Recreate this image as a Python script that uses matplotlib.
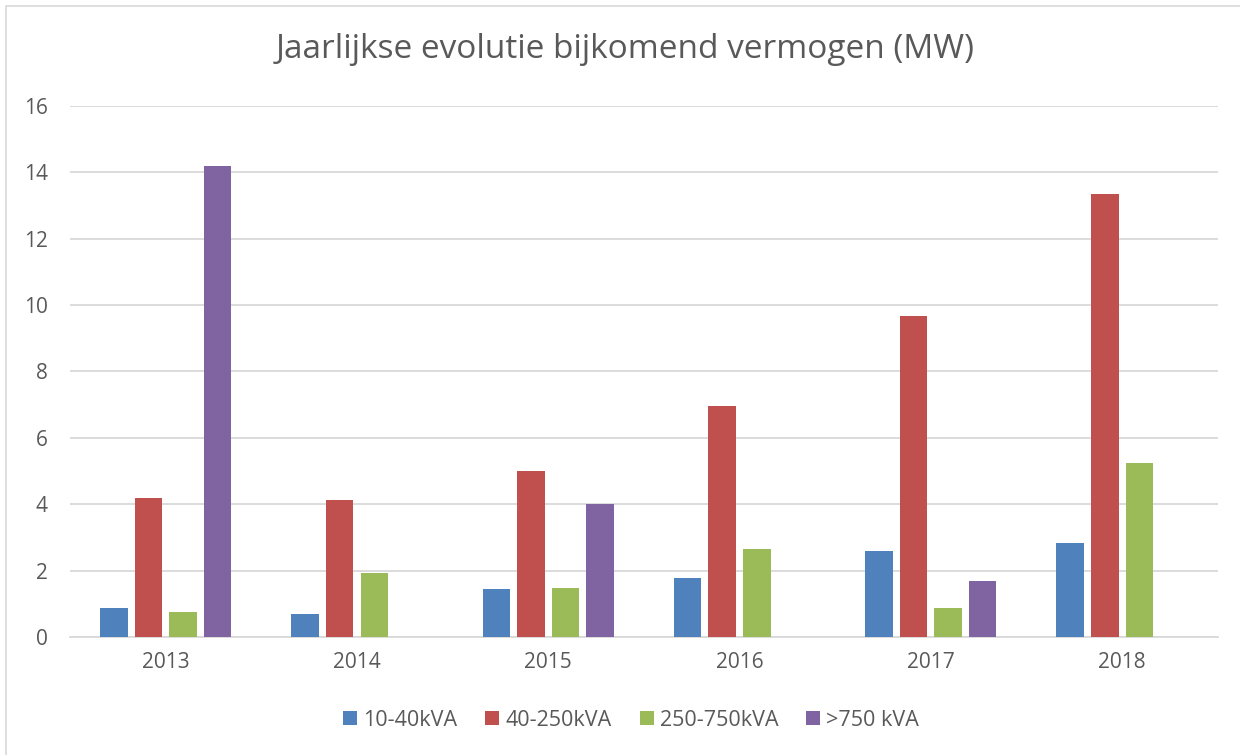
import numpy as np
import matplotlib.pyplot as plt
from matplotlib.patches import Rectangle

# Data
years = ['2013', '2014', '2015', '2016', '2017', '2018']
series_names = ['10-40kVA', '40-250kVA', '250-750kVA', '>750 kVA']
kva_10_40 = [0.88, 0.70, 1.45, 1.78, 2.58, 2.82]
kva_40_250 = [4.20, 4.14, 5.00, 6.97, 9.67, 13.34]
kva_250_750 = [0.74, 1.94, 1.48, 2.65, 0.86, 5.24]
kva_750_plus = [14.20, 0, 4.00, 0, 1.70, 0]
colors = ['#4f81bd', '#c0504d', '#9bbb59', '#8064a2']

plt.rcParams['font.family'] = ['Open Sans', 'DejaVu Sans']
text_color = '#595959'

fig = plt.figure(figsize=(12.4, 7.55), dpi=100)
ax = fig.add_axes([0.0565, 0.1563, 0.9255, 0.7033])

# Chart border
fig.patches.append(Rectangle((6 / 1240, -0.01), 1.2, 1 - 6 / 755 + 0.01,
                             transform=fig.transFigure, fill=False,
                             edgecolor='#d9d9d9', linewidth=1.2))

x = np.arange(len(years))
step = 0.181
width = 0.144
all_series = [kva_10_40, kva_40_250, kva_250_750, kva_750_plus]
for i, (name, vals) in enumerate(zip(series_names, all_series)):
    ax.bar(x + (i - 1.5) * step, vals, width, color=colors[i], label=name,
           zorder=3)

ax.set_xlim(-0.5, len(years) - 0.5)
ax.set_ylim(0, 16)
ax.set_yticks(range(0, 17, 2))
ax.set_xticks(x)
ax.set_xticklabels(years)
ax.yaxis.grid(True, color='#d9d9d9', linewidth=1.3, zorder=0)
ax.set_axisbelow(True)
for side in ['top', 'right', 'left']:
    ax.spines[side].set_visible(False)
ax.spines['bottom'].set_color('#d9d9d9')
ax.spines['bottom'].set_linewidth(1.3)
ax.tick_params(axis='both', length=0, colors=text_color, labelsize=15)
ax.tick_params(axis='y', pad=16)
ax.tick_params(axis='x', pad=11)

fig.text(0.504, 0.935, 'Jaarlijkse evolutie bijkomend vermogen (MW)',
         ha='center', va='center', fontsize=24, color=text_color)

leg = fig.legend(loc='center', bbox_to_anchor=(0.509, 0.046), ncol=4,
                 frameon=False, fontsize=15.5, handlelength=0.65,
                 handleheight=0.65, handletextpad=0.28, columnspacing=1.3)
for t in leg.get_texts():
    t.set_color(text_color)

fig.savefig('out.png', dpi=100)
